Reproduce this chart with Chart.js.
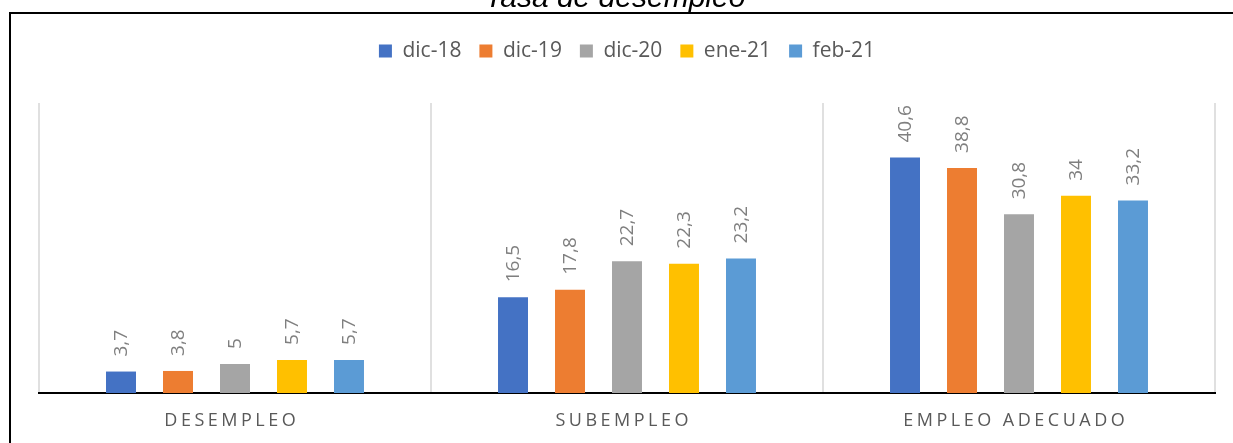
<!DOCTYPE html>
<html><head><meta charset="utf-8">
<script src="https://cdn.jsdelivr.net/npm/chart.js@4.4.0/dist/chart.umd.min.js"></script>
<style>
html,body{margin:0;padding:0;background:#fff;overflow:hidden;}
#wrap{position:relative;width:1233px;height:443px;overflow:hidden;}
#title{position:absolute;left:0;width:1230px;top:-18px;text-align:center;font:italic 30px/30px "Liberation Sans",Arial,sans-serif;color:#000;white-space:nowrap;}
canvas{position:absolute;left:0;top:0;}
</style></head><body>
<div id="wrap"><canvas id="c" width="1233" height="443"></canvas><div id="title">Tasa de desempleo</div></div>
<script>
const categories = ['DESEMPLEO', 'SUBEMPLEO', 'EMPLEO ADECUADO'];
const seriesNames = ['dic-18', 'dic-19', 'dic-20', 'ene-21', 'feb-21'];
const dic18 = [3.7, 16.5, 40.6];
const dic19 = [3.8, 17.8, 38.8];
const dic20 = [5, 22.7, 30.8];
const ene21 = [5.7, 22.3, 34];
const feb21 = [5.7, 23.2, 33.2];
const seriesColors = ['#4472C4', '#ED7D31', '#A5A5A5', '#FFC000', '#5B9BD5'];

const seriesValues = [dic18, dic19, dic20, ene21, feb21];
const TEXT_GREY = '#595959';
const LABEL_GREY = '#7f7f7f';

const frame = {
  id: 'frame',
  beforeDraw(chart) {
    const ctx = chart.ctx;
    ctx.save();
    ctx.strokeStyle = '#000';
    ctx.lineWidth = 2;
    ctx.strokeRect(10, 13, 1400, 1000);
    ctx.restore();
  }
};

const legendGap = {
  id: 'legendGap',
  beforeLayout(chart) {
    const lg = chart.legend;
    if (lg && !lg._gapPatched) {
      const orig = lg.fit;
      lg.fit = function () { orig.call(this); this.height += 31.5; };
      lg._gapPatched = true;
    }
  }
};

const barLabels = {
  id: 'barLabels',
  afterDatasetsDraw(chart) {
    const ctx = chart.ctx;
    ctx.save();
    ctx.font = '19px "Open Sans", sans-serif';
    ctx.fillStyle = LABEL_GREY;
    ctx.textAlign = 'left';
    ctx.textBaseline = 'middle';
    chart.data.datasets.forEach((ds, di) => {
      const meta = chart.getDatasetMeta(di);
      meta.data.forEach((bar, i) => {
        const txt = String(ds.data[i]).replace('.', ',');
        ctx.save();
        ctx.translate(bar.x + 1, bar.y - 15);
        ctx.rotate(-Math.PI / 2);
        ctx.fillText(txt, 0, 0);
        ctx.restore();
      });
    });
    ctx.restore();
  }
};

const catLabels = {
  id: 'catLabels',
  afterDraw(chart) {
    const ctx = chart.ctx;
    const xs = chart.scales.x;
    ctx.save();
    ctx.font = '18px "Open Sans", sans-serif';
    ctx.fillStyle = TEXT_GREY;
    ctx.textAlign = 'center';
    ctx.textBaseline = 'middle';
    const sp = 3.5;
    ctx.letterSpacing = sp + 'px';
    categories.forEach((c, i) => {
      ctx.fillText(c, xs.getPixelForValue(i) - 5 + sp / 2, 420.5);
    });
    ctx.restore();
  }
};

new Chart(document.getElementById('c'), {
  type: 'bar',
  data: {
    labels: categories,
    datasets: seriesNames.map((n, i) => ({
      label: n,
      data: seriesValues[i],
      backgroundColor: seriesColors[i],
      borderWidth: 0,
      categoryPercentage: 0.727,
      barPercentage: 0.526
    }))
  },
  options: {
    responsive: false,
    animation: false,
    layout: { padding: { top: 22.5, left: 39, right: 18, bottom: 50 } },
    plugins: {
      title: { display: false },
      tooltip: { enabled: false },
      legend: {
        position: 'top',
        align: 'center',
        labels: {
          boxWidth: 13,
          boxHeight: 13,
          padding: 18,
          color: TEXT_GREY,
          font: { family: '"Open Sans", sans-serif', size: 21 }
        }
      }
    },
    scales: {
      x: {
        grid: { display: true, color: '#e0e0e0', lineWidth: 2, drawTicks: false, offset: true },
        border: { display: true, color: '#000', width: 2 },
        ticks: { display: false }
      },
      y: {
        display: false,
        min: 0,
        max: 50
      }
    }
  },
  plugins: [frame, legendGap, barLabels, catLabels]
});
</script>
</body></html>
